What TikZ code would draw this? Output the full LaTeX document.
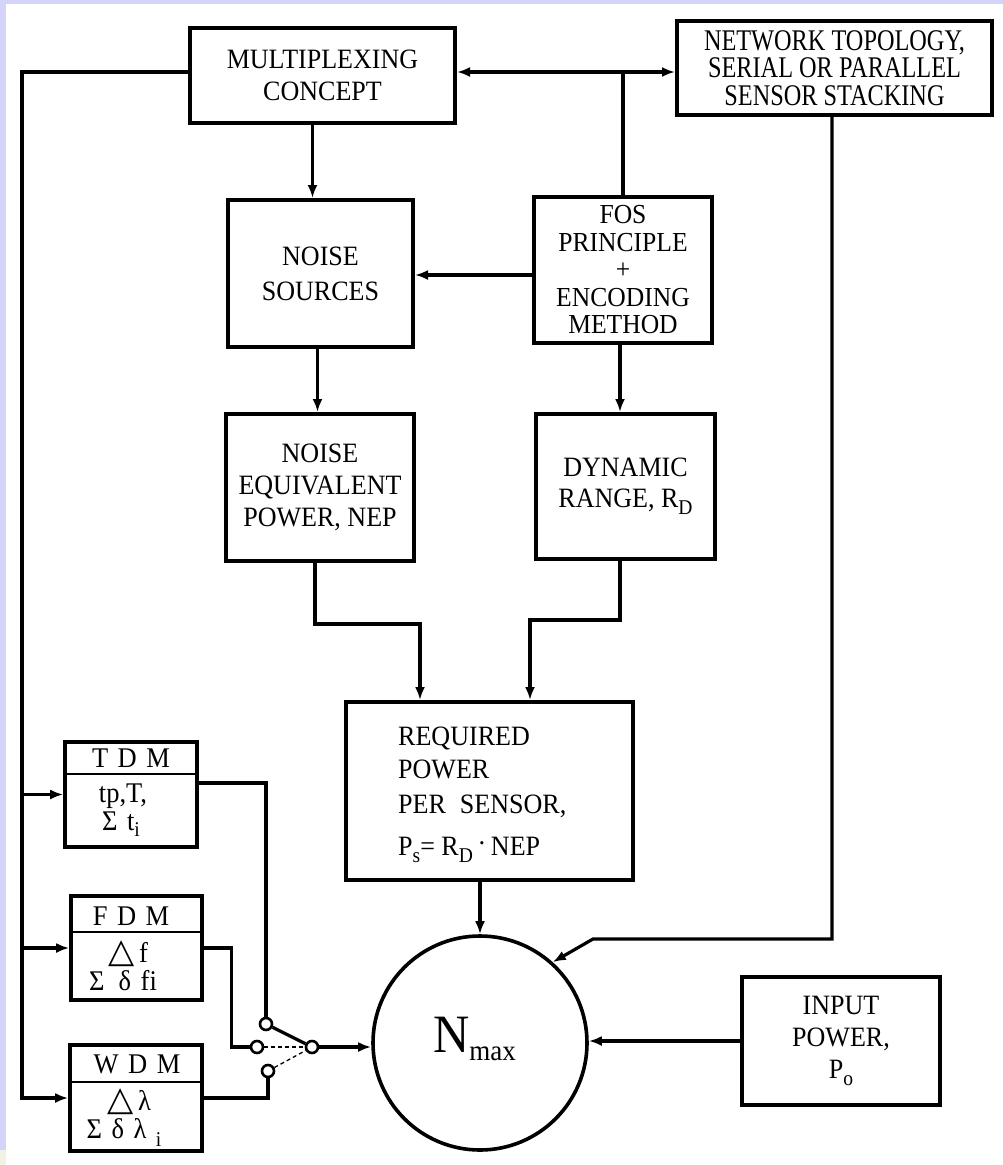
\documentclass[tikz,border=0pt]{standalone}
\usepackage{fontspec}
\setmainfont{Liberation Serif}[FakeStretch=0.93]
\newfontfamily\netfont[FakeStretch=0.81]{Liberation Serif}
\newfontfamily\symfont{DejaVu Sans}
\usetikzlibrary{arrows.meta,calc}
\newcommand\lsub[2][-7pt]{\raisebox{#1}{\fontsize{21}{21}\selectfont #2}}
\definecolor{lav}{RGB}{212,212,250}
\definecolor{cream}{RGB}{242,242,228}
\tikzset{
  blk/.style={draw, line width=4pt, inner sep=0pt, align=center, font=\fontsize{28}{32}\selectfont},
  sbox/.style={draw, line width=3.6pt, inner sep=0pt},
  lbl/.style={inner sep=0pt, font=\fontsize{28.5}{26}\selectfont},
  conn/.style={line width=3.2pt},
  arr/.style={conn, -{Latex[length=13pt,width=10pt]}},
  contact/.style={circle, draw, line width=2.6pt, fill=white, minimum size=12pt, inner sep=0pt},
  dsh/.style={line width=1.3pt, dashed, dash pattern=on 4pt off 3pt},
}
\begin{document}
\begin{tikzpicture}[x=1pt,y=-1pt]
\useasboundingbox (0,0) rectangle (1003,1165);
\fill[white] (0,0) rectangle (1003,1165);
\fill[lav] (0,0) rectangle (1003,4);
\fill[lav] (0,0) rectangle (6,1150);
\fill[cream] (0,1150) rectangle (6,1165);

% main boxes
\node[blk, minimum width=265, minimum height=95] (mux) at (322.5,75.5) {MULTIPLEXING\\CONCEPT};
\node[blk, minimum width=315, minimum height=94, font=\netfont\fontsize{30}{27.5}\selectfont] (net) at (834.5,68) {NETWORK TOPOLOGY,\\SERIAL OR PARALLEL\\SENSOR STACKING};
\node[blk, minimum width=185, minimum height=147, font=\fontsize{28}{35}\selectfont] (noise) at (320.5,273.5) {NOISE\\SOURCES};
\node[blk, minimum width=178, minimum height=146, font=\fontsize{27.5}{27.5}\selectfont] (fos) at (623,270) {FOS\\PRINCIPLE\\+\\ENCODING\\METHOD};
\node[blk, minimum width=188, minimum height=147] (nep) at (320,487.5) {NOISE\\EQUIVALENT\\POWER, NEP};
\node[blk, minimum width=179, minimum height=145, font=\fontsize{28}{31}\selectfont] (dyn) at (625.5,486.5) {DYNAMIC\\RANGE, R\lsub{D}};
\node[blk, minimum width=287, minimum height=178] (req) at (489.5,791) {};
\node[inner sep=0pt, anchor=base west, font=\fontsize{28}{26}\selectfont] (req1) at (398,745) {REQUIRED};
\node[inner sep=0pt, anchor=base west, font=\fontsize{28}{26}\selectfont] (req2) at (398,778) {POWER};
\node[inner sep=0pt, anchor=base west, font=\fontsize{28}{26}\selectfont] (req3) at (398,813) {PER\hspace{14pt}SENSOR,};
\node[inner sep=0pt, anchor=base west, font=\fontsize{28}{26}\selectfont] (req4) at (398,855) {P\lsub{s}= R\lsub{D}\,\raisebox{3pt}{·}\,NEP};
\node[circle, draw, line width=3.6pt, minimum size=214pt, inner sep=0pt] (nm) at (480,1043) {};
\node[inner sep=0pt, anchor=base west] (nmt) at (433,1052) {\fontsize{54}{54}\selectfont N\raisebox{-8pt}{\fontsize{29}{29}\selectfont max}};
\node[blk, minimum width=198, minimum height=128, font=\fontsize{28}{32}\selectfont] (inp) at (841,1041) {INPUT\\POWER,\\P\lsub{o}};

% small multiplexing boxes
\node[sbox, minimum width=132, minimum height=105] (tdm) at (131,794.5) {};
\draw[line width=1.6pt] (tdm.west |- 0,774) -- (tdm.east |- 0,774);
\node[lbl, anchor=base] (tdm1) at (131,767) {T\,\,D\,\,M};
\node[lbl, anchor=base] (tdm2) at (123,802) {tp,T,};
\node[lbl, anchor=base] (tdm3) at (121,830) {Σ\,\,t\lsub[-6pt]{i}};

\node[sbox, minimum width=131, minimum height=104] (fdm) at (136.5,948) {};
\draw[line width=1.6pt] (fdm.west |- 0,932) -- (fdm.east |- 0,932);
\node[lbl, anchor=base] (fdm1) at (131,925) {F\,\,D\,\,M};
\node[lbl, anchor=base] (fdm2) at (128,962) {{\symfont\fontsize{34}{34}\selectfont △}\,f};
\node[lbl, anchor=base] (fdm3) at (123,990) {Σ\,\,\,δ\,\,fi};

\node[sbox, minimum width=132, minimum height=106] (wdm) at (136,1098) {};
\draw[line width=1.6pt] (wdm.west |- 0,1082) -- (wdm.east |- 0,1082);
\node[lbl, anchor=base] (wdm1) at (137,1073) {W\,\,D\,\,M};
\node[lbl, anchor=base] (wdm2) at (129,1110) {{\symfont\fontsize{34}{34}\selectfont △}\,λ};
\node[lbl, anchor=base] (wdm3) at (124,1138) {Σ\,\,δ\,\,λ\,\,\lsub[-8pt]{i}};

% switch
\node[contact] (c1) at (266,1024) {};
\node[contact] (c2) at (257,1047) {};
\node[contact] (c3) at (268,1071) {};
\node[contact] (pv) at (312,1047) {};

% connectors
\coordinate (J) at (623,72);
\coordinate (S) at (22,72);
\draw[conn] (fos.north) -- (J);
\draw[arr] (J) -- (J -| mux.east);
\draw[arr] (J) -- (J -| net.west);
\draw[arr] (S -| mux.west) -- (S) |- (wdm.west);
\draw[arr] (S |- tdm.west) -- (tdm.west);
\draw[arr] (S |- fdm.west) -- (fdm.west);
\draw[arr] ([xshift=-8pt]noise.north |- mux.south) -- ([xshift=-8pt]noise.north);
\draw[arr] ([yshift=-5pt]fos.west) -- ([yshift=-5pt]fos.west -| noise.east);
\draw[arr] ([xshift=-3pt]noise.south) -- ([xshift=-3pt]noise.south |- nep.north);
\draw[arr] ([xshift=-3pt]fos.south) -- ([xshift=-3pt]fos.south |- dyn.north);
\draw[arr] ([xshift=-5pt]nep.south) -- ++(0,61) -| ([xshift=-69.5pt]req.north);
\draw[arr] ([xshift=-5.5pt]dyn.south) -- ++(0,59) -| ([xshift=40.5pt]req.north);
\draw[arr] (nm.north |- req.south) -- (nm.north);
\draw[arr] ([xshift=-2.5pt]net.south) -- ++(0,822) -- ++(-239,0) -- (nm.48);
\draw[arr] (inp.west) -- (inp.west -| nm.east);

\draw[conn] ([yshift=11.5pt]tdm.east) -| (c1.north);
\draw[conn] (fdm.east) -- ++(28,0) |- (c2.west);
\draw[conn] (wdm.east) -| (c3.south);
\draw[conn] (c1) -- (pv);
\draw[dsh] (c2) -- (pv);
\draw[dsh] (c3) -- (pv);
\draw[arr] (pv) -- (pv -| nm.west);
\end{tikzpicture}
\end{document}
